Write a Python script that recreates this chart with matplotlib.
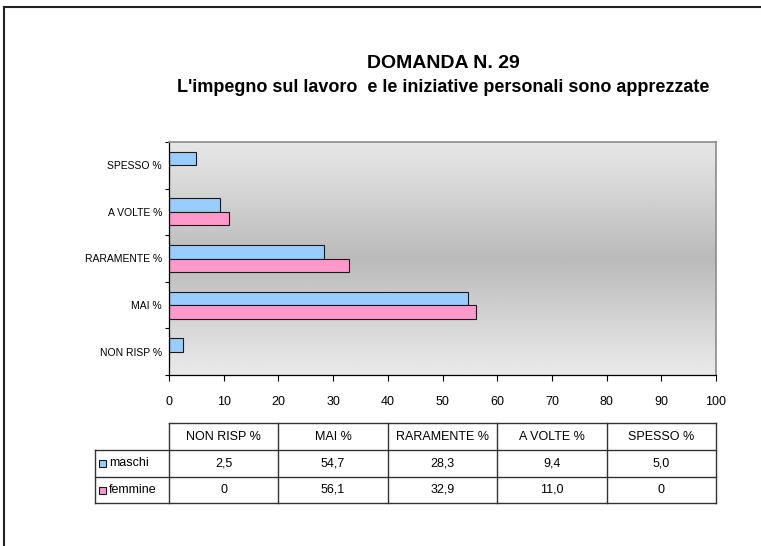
import numpy as np
import matplotlib
matplotlib.use('Agg')
import matplotlib.pyplot as plt
from matplotlib.patches import Rectangle
from matplotlib.lines import Line2D

plt.rcParams['font.family'] = ['Liberation Sans', 'DejaVu Sans']

# data
categories = ['NON RISP %', 'MAI %', 'RARAMENTE %', 'A VOLTE %', 'SPESSO %']
maschi = [2.5, 54.7, 28.3, 9.4, 5.0]
femmine = [0, 56.1, 32.9, 11.0, 0]
series_names = ['maschi', 'femmine']
series_colors = ['#99CCFF', '#FF99CC']
xticks = list(range(0, 101, 10))

def fmt(v):
    if v == 0:
        return '0'
    return ('%.1f' % v).replace('.', ',')

W, H = 761, 546
fig = plt.figure(figsize=(W / 100, H / 100), dpi=100)
fig.patch.set_facecolor('white')

def fx(px):
    return px / W

def fy(py):
    return 1 - py / H

# plot area in pixel terms
left, right, top, bottom = 169, 716, 142, 375
ax = fig.add_axes([fx(left), fy(bottom), (right - left) / W, (bottom - top) / H])

# grey gradient background (light - dark - light)
prof = np.interp(np.linspace(0, 1, 200), [0, 0.08, 0.5, 0.92, 1], [0.91, 0.89, 0.73, 0.88, 0.90])
grad = np.tile(prof[:, None], (1, 2))
ax.imshow(grad, cmap='gray', vmin=0, vmax=1, aspect='auto',
          extent=[0, 100, 4.5, -0.5], zorder=0, interpolation='bilinear')

y = np.arange(len(categories))
h = 0.29
ax.barh(y + h / 2, maschi, height=h, color=series_colors[0], edgecolor='#1a1a1a', linewidth=0.8, zorder=2)
ax.barh(y - h / 2, femmine, height=h, color=series_colors[1], edgecolor='#1a1a1a', linewidth=0.8, zorder=2)

ax.set_xlim(0, 100)
ax.set_ylim(-0.5, 4.5)
ax.set_xticks(xticks)
ax.set_xticklabels([str(t) for t in xticks], fontsize=9,
                   family=['Liberation Sans Narrow', 'Liberation Sans'])
ax.set_yticks(y)
ax.set_yticklabels(categories, fontsize=7.5)
ax.set_yticks(np.arange(-0.5, 5, 1), minor=True)
ax.tick_params(axis='y', which='major', length=0, pad=5)
ax.tick_params(axis='y', which='minor', length=3, direction='out', width=0.8)
ax.tick_params(axis='x', which='major', length=4, direction='out', width=0.8, pad=11)

for s in ['top', 'right']:
    ax.spines[s].set_color('#8c8c8c')
    ax.spines[s].set_linewidth(1.2)
for s in ['left', 'bottom']:
    ax.spines[s].set_color('black')
    ax.spines[s].set_linewidth(0.9)

# titles
fig.text(fx(443), fy(63), 'DOMANDA N. 29', ha='center', va='center',
         fontsize=14, fontweight='bold')
fig.text(fx(443), fy(87), "L'impegno sul lavoro  e le iniziative personali sono apprezzate",
         ha='center', va='center', fontsize=13, fontweight='bold')

# data table under the axis, columns lined up with the 0-20-..-100 ticks
def data_px(v):
    return left + (v - 0) / 100 * (right - left)

edges = np.linspace(0, 100, len(categories) + 1)
row_y = [423, 450, 477, 503]
lab_left = 95
lc = '#333333'

def hline(x0, x1, yy):
    fig.add_artist(Line2D([fx(x0), fx(x1)], [fy(yy), fy(yy)], color=lc, linewidth=1.0))

def vline(xx, y0, y1):
    fig.add_artist(Line2D([fx(xx), fx(xx)], [fy(y0), fy(y1)], color=lc, linewidth=1.0))

hline(data_px(edges[0]), data_px(edges[-1]), row_y[0])
for yy in row_y[1:]:
    hline(lab_left, data_px(edges[-1]), yy)
for e in edges:
    vline(data_px(e), row_y[0], row_y[-1])
vline(lab_left, row_y[1], row_y[-1])

tfont = 9
for i, cat in enumerate(categories):
    cx = data_px((edges[i] + edges[i + 1]) / 2)
    fig.text(fx(cx), fy((row_y[0] + row_y[1]) / 2), cat, ha='center', va='center', fontsize=tfont)
    for r, vals in enumerate([maschi, femmine]):
        fig.text(fx(cx), fy((row_y[r + 1] + row_y[r + 2]) / 2), fmt(vals[i]),
                 ha='center', va='center', fontsize=tfont)

# row labels with colour keys
for r, (name, col) in enumerate(zip(series_names, series_colors)):
    cy = (row_y[r + 1] + row_y[r + 2]) / 2
    fig.add_artist(Rectangle((fx(99), fy(cy + 3.5)), 7 / W, 7 / H,
                             facecolor=col, edgecolor='#1a1a1a', linewidth=0.8,
                             transform=fig.transFigure))
    fig.text(fx(109), fy(cy), name, ha='left', va='center', fontsize=tfont)

# outer frame lines (top and left only visible)
fig.add_artist(Line2D([fx(4), 1], [fy(7), fy(7)], color='#222222', linewidth=1.5))
fig.add_artist(Line2D([fx(4), fx(4)], [0, fy(7)], color='#222222', linewidth=1.5))

fig.savefig('out.png', dpi=100)
